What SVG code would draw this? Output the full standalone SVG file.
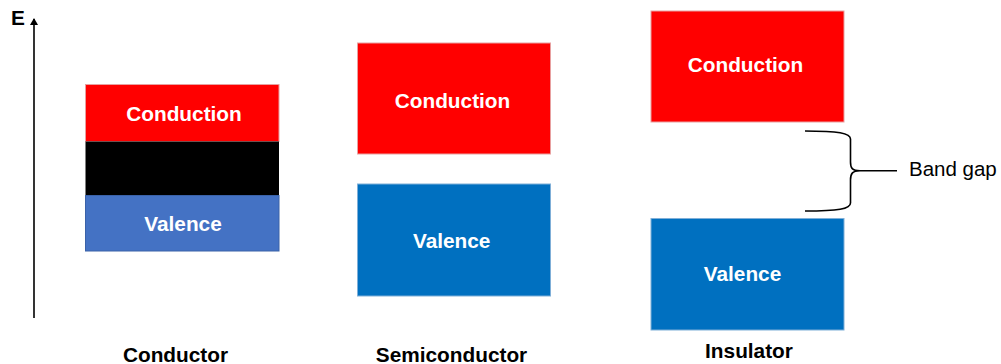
<svg xmlns="http://www.w3.org/2000/svg" width="1001" height="364" viewBox="0 0 1001 364">
  <style>
    .band { stroke-width: 1; }
    .cond { fill: #FF0000; stroke: #E8A0A0; }
    .val  { fill: #0070C0; stroke: #7FAFD8; }
    .val2 { fill: #4472C4; stroke: #3A62A8; }
    .gapfill { fill: #000000; }
    .blabel { font-family: "Liberation Sans", Arial, sans-serif; font-weight: bold; font-size: 20.8px; fill: #FFFFFF; text-anchor: middle; }
    .title { font-family: "Liberation Sans", Arial, sans-serif; font-weight: bold; font-size: 20.8px; fill: #000000; text-anchor: middle; }
    .note { font-family: "Liberation Sans", Arial, sans-serif; font-size: 20.5px; fill: #000000; }
    .line { stroke: #000000; stroke-width: 1.6; fill: none; }
  </style>
  <defs>
    <marker id="arrow" markerWidth="7" markerHeight="8" refX="6" refY="4" orient="auto" markerUnits="userSpaceOnUse">
      <path d="M0,0 L7,4 L0,8 Z" fill="#000000"/>
    </marker>
  </defs>

  <rect width="1001" height="364" fill="#FFFFFF"/>

  <!-- energy axis -->
  <g id="axis">
    <line class="line" x1="34" y1="318" x2="34" y2="19" marker-end="url(#arrow)"/>
    <text class="title" x="18" y="25.3" font-size="19.5px">E</text>
  </g>

  <!-- conductor: overlapping bands -->
  <g id="conductor">
    <rect class="band cond" x="85.5" y="84.5" width="193.5" height="57"/>
    <rect class="gapfill" x="85.5" y="141.5" width="193.5" height="54"/>
    <rect class="band val2" x="85.5" y="195.5" width="193.5" height="55.5"/>
    <text class="blabel" x="184" y="120.7">Conduction</text>
    <text class="blabel" x="183" y="231">Valence</text>
    <text class="title" x="175.5" y="361.7">Conductor</text>
  </g>

  <!-- semiconductor: small gap -->
  <g id="semiconductor">
    <rect class="band cond" x="357.5" y="43" width="193" height="111"/>
    <rect class="band val" x="357.5" y="184" width="193" height="112"/>
    <text class="blabel" x="452.5" y="108.3">Conduction</text>
    <text class="blabel" x="451.7" y="248.3">Valence</text>
    <text class="title" x="451.5" y="361.7">Semiconductor</text>
  </g>

  <!-- insulator: wide gap -->
  <g id="insulator">
    <rect class="band cond" x="651" y="11" width="193" height="111"/>
    <rect class="band val" x="651" y="218.5" width="193" height="111.5"/>
    <text class="blabel" x="745.5" y="71.7">Conduction</text>
    <text class="blabel" x="742.5" y="281">Valence</text>
    <text class="title" x="749" y="357.7">Insulator</text>
  </g>

  <!-- band gap brace -->
  <g id="connectors">
    <path class="line" d="M805,131 C838,131 850.5,133 850.5,139 L850.5,162 C850.5,168 852,170.7 860,170.7 L897,170.7 M860,170.7 C852,170.7 850.5,174 850.5,180 L850.5,203 C850.5,209 838,211 805,211"/>
  </g>
  <g id="bandgap-label">
    <text class="note" x="909" y="175.7">Band gap</text>
  </g>
</svg>
